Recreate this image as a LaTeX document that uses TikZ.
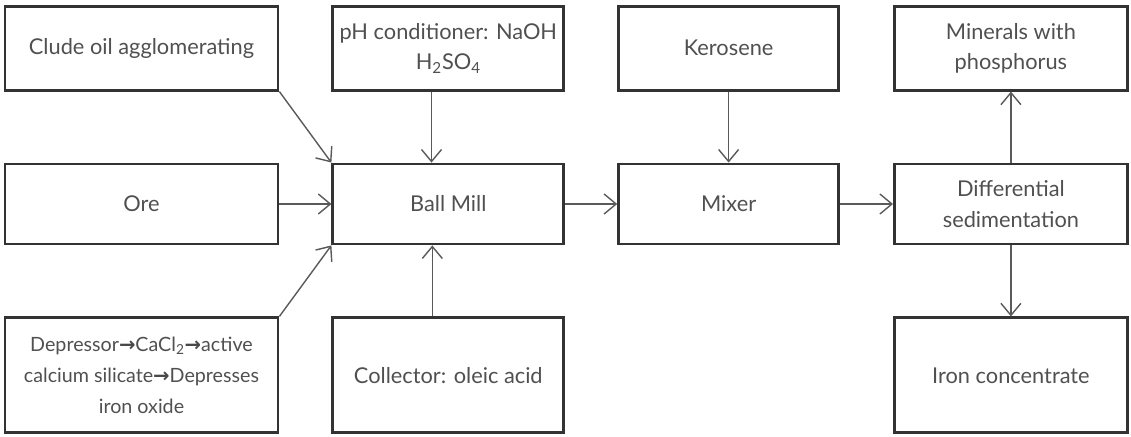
\documentclass[tikz,border=0pt]{standalone}
\usepackage{fontspec}
\setmainfont{Lato}
\newfontfamily\arrowfont{DejaVu Sans}
\usetikzlibrary{positioning}
\usetikzlibrary{arrows.meta}
\definecolor{boxline}{HTML}{333333}
\definecolor{flowline}{HTML}{5A5A5A}
\definecolor{boxtext}{HTML}{505050}
\newcommand{\thenarrow}{{\arrowfont\bfseries\color{boxtext!90!black}→}}

\begin{document}
\begin{tikzpicture}[
			node distance=1.3cm,
			block/.style={rectangle, draw=boxline, line width=2pt, align=center, text=boxtext, font=\fontsize{15.5}{21.5}\selectfont, inner sep=2pt},
			colone/.style={minimum width=6.825cm},
			coltwo/.style={minimum width=5.775cm},
			colthree/.style={minimum width=5.5cm},
			colfour/.style={minimum width=5.825cm},
			rowtop/.style={minimum height=2.1cm},
			rowmid/.style={minimum height=2cm},
			rowlow/.style={minimum height=2.875cm},
			flow/.style={draw=flowline, line width=1pt, arrows=-{Straight Barb[length=0.3cm,width=0.5cm,line width=1pt]}},
			]
			\useasboundingbox (0,0) rectangle (28.275,-10.925);
			
			\node[block, colone, rowmid]   (ore) at (3.5375,-5.1)                 {Ore};
			\node[block, coltwo, rowmid]   (ball_mill) [right=of ore]             {Ball Mill};
			\node[block, colthree, rowmid] (mixer) [right=of ball_mill]           {Mixer};
			\node[block, colfour, rowmid]  (sedimentation) [right=1.325cm of mixer] {Differential\\sedimentation};
			\node[block, colone, rowtop]   (crude_oil) [above=1.775cm of ore]     {Clude oil agglomerating};
			\node[block, coltwo, rowtop]   (ph_cond) [above=1.775cm of ball_mill] {pH conditioner: NaOH\\H\textsubscript{2}SO\textsubscript{4}};
			\node[block, colthree, rowtop] (kerosene) [above=1.775cm of mixer]    {Kerosene};
			\node[block, colfour, rowtop]  (phosphorus) [above=1.775cm of sedimentation] {Minerals with\\phosphorus};
			\node[block, colone, rowlow, font=\fontsize{14}{22}\selectfont] (depressor) [below=1.775cm of ore] {Depressor\thenarrow CaCl\textsubscript{2}\thenarrow active\\calcium silicate\thenarrow Depresses\\iron oxide};
			\node[block, coltwo, rowlow]   (collector) [below=1.775cm of ball_mill] {Collector: oleic acid};
			\node[block, colfour, rowlow]  (iron) [below=1.775cm of sedimentation] {Iron concentrate};
			
			\draw [flow] (crude_oil.south east)              -- (ball_mill.north west);
			\draw [flow] (ore)                               -- (ball_mill);
			\draw [flow] (depressor.north east)              -- (ball_mill.south west);
			\draw [flow] ([xshift=-0.42cm]ph_cond.south)     -- ([xshift=-0.42cm]ball_mill.north);
			\draw [flow] ([xshift=-0.4cm]collector.north)    -- ([xshift=-0.4cm]ball_mill.south);
			\draw [flow] (ball_mill)                         -- (mixer);
			\draw [flow] (kerosene)                          -- (mixer);
			\draw [flow] (mixer)                             -- (sedimentation);
			\draw [flow] (sedimentation)                     -- (phosphorus);
			\draw [flow] (sedimentation)                     -- (iron);
			
\end{tikzpicture}
\end{document}
